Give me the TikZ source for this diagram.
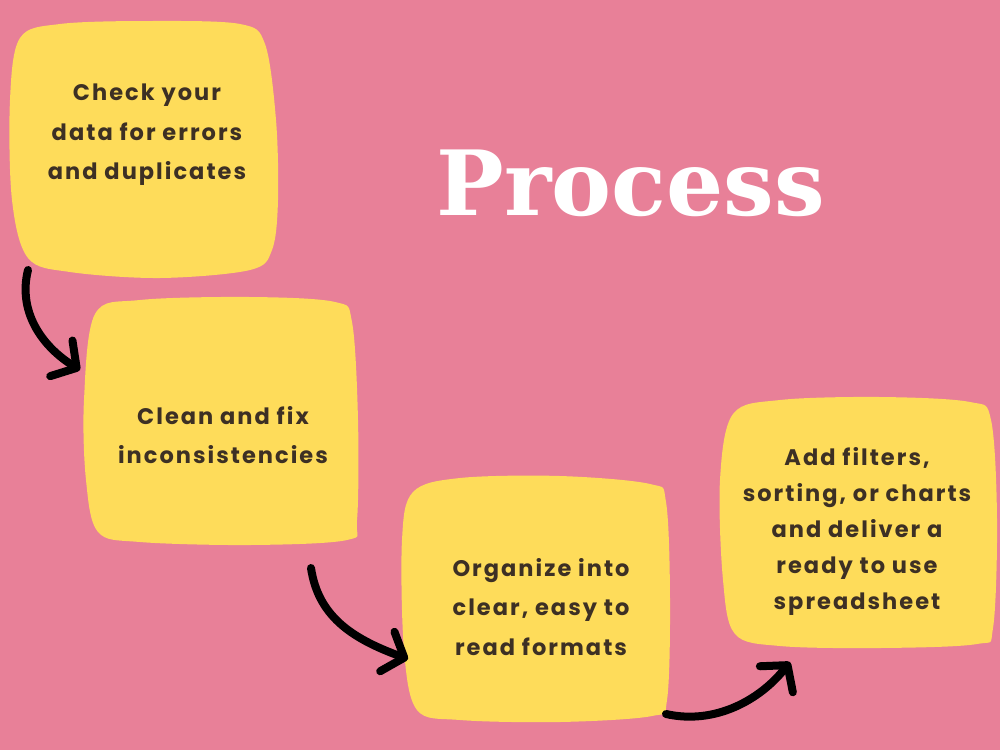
\documentclass[tikz,border=0pt]{standalone}
\usepackage{fontspec}
\setmainfont{Poppins}
\newfontfamily\titlefont{DejaVu Serif}
\newfontfamily\stepfont[LetterSpace=9]{Poppins}
\usetikzlibrary{arrows.meta}
\definecolor{bgpink}{HTML}{E88098}
\definecolor{blobyellow}{HTML}{FEDC5A}
\definecolor{inkbrown}{HTML}{3D3024}
\tikzset{
  blob/.style={fill=blobyellow, draw=none},
  steptext/.style={align=center, text=inkbrown, font=\fontsize{22.5}{39.5}\selectfont\stepfont\bfseries},
  flow/.style={draw=black, line width=8pt, line cap=round, line join=round,
    -{Straight Barb[length=18pt, width=42pt, line cap=round, line join=round]}},
}
\begin{document}
\begin{tikzpicture}[x=1pt,y=-1pt]
\fill[bgpink] (0,0) rectangle (1000,750);
\useasboundingbox (0,0) rectangle (1000,750);
% blobs
\fill[blob] plot[smooth cycle, tension=0.55] coordinates {
  (20,38) (60,24) (150,21) (240,24) (265,44) (276,120) (278,200) (272,250) (250,270)
  (160,278) (70,272) (28,258) (12,200) (10,100)};
\fill[blob] plot[smooth cycle, tension=0.55] coordinates {
  (95,314) (140,300) (250,297) (335,302) (352,322) (358,420) (357,520) (347,540)
  (250,545) (140,542) (98,532) (86,480) (84,400)};
\fill[blob] plot[smooth cycle, tension=0.55] coordinates {
  (413,492) (460,478) (560,476) (650,484) (666,502) (670,600) (667,700) (652,716)
  (560,722) (460,720) (417,710) (404,650) (402,540)};
\fill[blob] plot[smooth cycle, tension=0.55] coordinates {
  (733,414) (780,400) (880,397) (970,402) (991,420) (997,520) (993,628) (977,644)
  (880,648) (780,646) (735,634) (723,580) (720,480)};
% text
\node[steptext] (s1) at (147,135) {Check your\\data for errors\\and duplicates};
\node[steptext] (s2) at (223,435) {Clean and fix\\inconsistencies};
\node[steptext] (s3) at (541,607) {Organize into\\clear, easy to\\read formats};
\node[steptext, font=\fontsize{22.5}{36}\selectfont\stepfont\bfseries] (s4) at (857,531) {Add filters,\\sorting, or charts\\and deliver a\\ready to use\\spreadsheet};
\node[text=white, font=\fontsize{90}{94}\selectfont\titlefont\bfseries] (title) at (631,183) {Process};
% arrows
\coordinate (a1s) at (28,270);
\coordinate (a1e) at (80,370);
\coordinate (a2s) at (311,568);
\coordinate (a2e) at (408,659);
\coordinate (a3s) at (666,714);
\coordinate (a3e) at (790,662);
\draw[flow] (a1s) .. controls (18,310) and (40,345) .. (a1e);
\draw[flow] (a2s) .. controls (318,615) and (350,638) .. (a2e);
\draw[flow] (a3s) .. controls (715,725) and (760,700) .. (a3e);
\end{tikzpicture}
\end{document}
